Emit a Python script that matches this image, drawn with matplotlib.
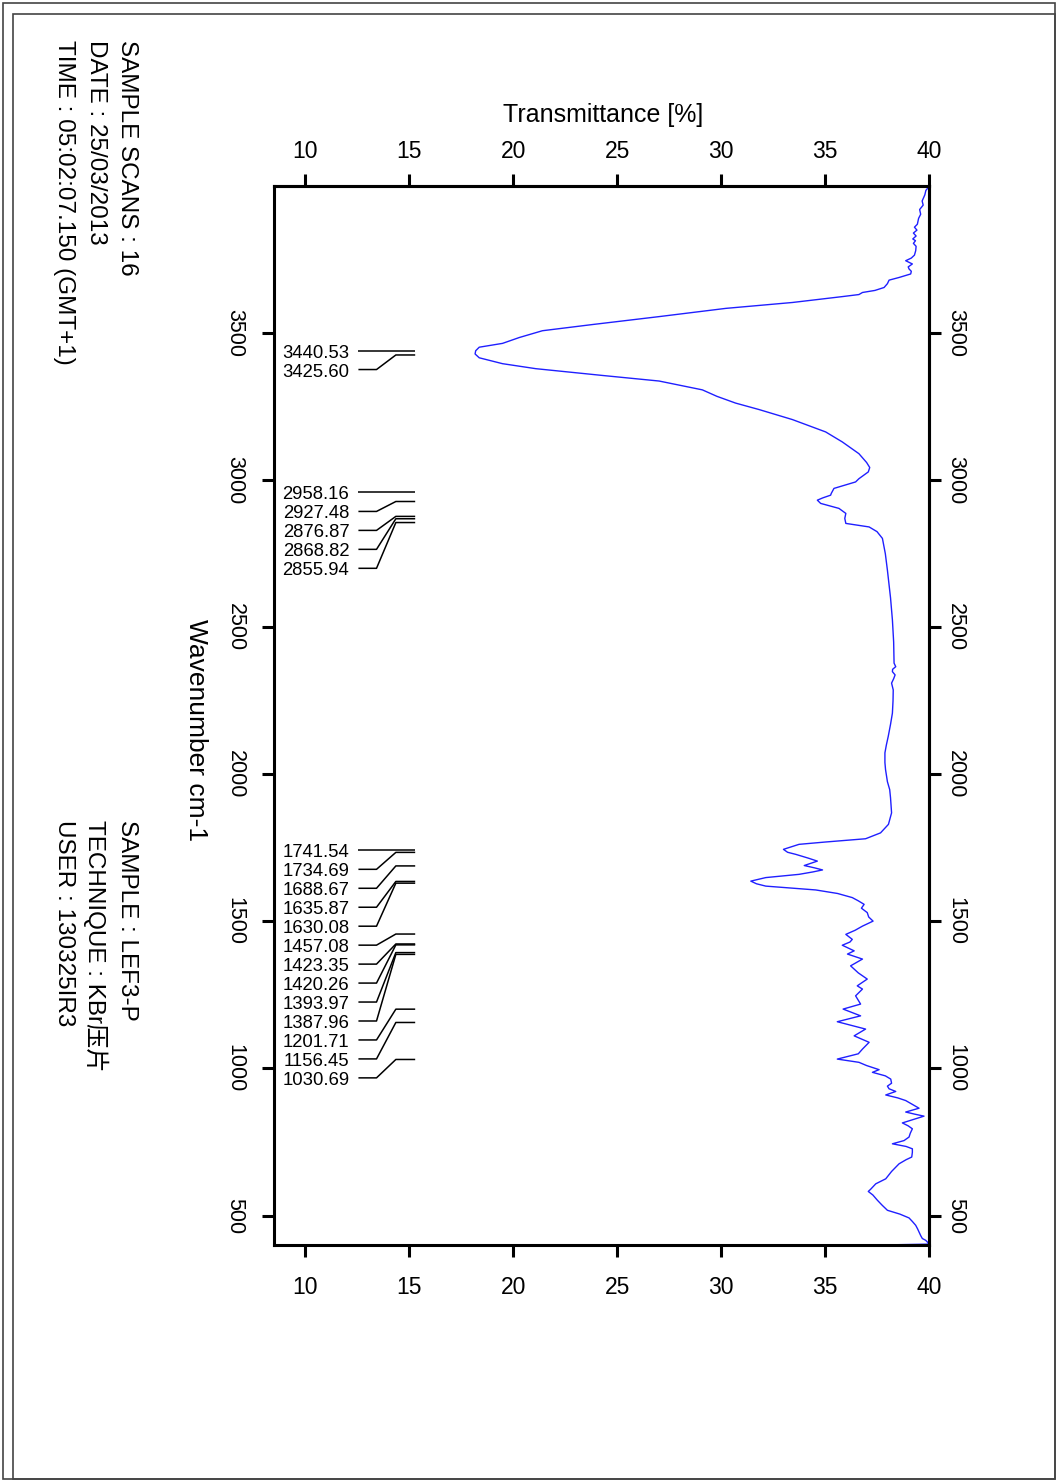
import matplotlib
matplotlib.use("Agg")
import matplotlib.pyplot as plt
import matplotlib.transforms as mtransforms
from matplotlib.patches import Rectangle

plt.rcParams['font.family'] = ['Liberation Sans', 'DejaVu Sans']

# ---------------- data ----------------
wavenumber = [3998, 3985, 3970, 3949, 3935, 3920, 3904, 3890, 3870, 3860, 3850, 3840, 3830,
              3820, 3814, 3805, 3795, 3780, 3765, 3755, 3746, 3740, 3735, 3725, 3718, 3710,
              3701, 3689, 3680, 3668, 3655, 3645, 3638, 3631, 3624, 3604, 3584, 3556, 3529,
              3508, 3485, 3465, 3452, 3440, 3429, 3416, 3396, 3379, 3356, 3337, 3307, 3285,
              3262, 3240, 3206, 3164, 3130, 3090, 3060, 3043, 3028, 3005, 2994, 2972, 2955,
              2949, 2940, 2932, 2921, 2904, 2887, 2870, 2853, 2841, 2825, 2802, 2750, 2694,
              2600, 2525, 2450, 2378, 2366, 2357, 2349, 2338, 2325, 2310, 2287, 2250, 2208,
              2170, 2129, 2100, 2073, 2040, 2016, 1975, 1948, 1920, 1869, 1830, 1801, 1781,
              1770, 1762, 1745, 1735, 1728, 1715, 1705, 1697, 1690, 1682, 1675, 1668, 1660,
              1649, 1637, 1628, 1620, 1607, 1595, 1581, 1570, 1558, 1545, 1530, 1515, 1501,
              1484, 1470, 1456, 1439, 1430, 1419, 1400, 1389, 1372, 1360, 1349, 1325,
              1304, 1281, 1270, 1247, 1232, 1219, 1202, 1179, 1159, 1134, 1111, 1089,
              1066, 1050, 1032, 1021, 1010, 996,
              987, 975, 964, 950, 940, 931, 922, 910, 900, 891, 878, 865, 852, 845, 838, 828,
              815, 805, 795, 780, 767, 755, 744, 735, 727, 715, 699, 690, 676, 650, 625, 608,
              590, 582, 570, 552, 535, 518, 505, 492, 480, 467, 455, 444, 432, 422, 416, 408,
              403, 400]
transmittance = [40.0, 39.85, 39.8, 39.67, 39.72, 39.55, 39.6, 39.5, 39.44, 39.3, 39.42, 39.25,
                 39.38, 39.22, 39.35, 39.25, 39.38, 39.36, 39.3, 39.15, 38.88, 39.05, 39.2,
                 39.0, 39.04, 39.15, 39.12, 38.56, 38.08, 38.0, 37.84, 37.4, 36.8, 36.63,
                 35.83, 33.43, 30.23, 27.02, 23.81, 21.41, 20.3, 19.49, 18.37, 18.2, 18.17,
                 18.37, 19.49, 21.09, 24.29, 27.02, 29.1, 29.8, 30.7, 31.83, 33.43, 35.03,
                 35.83, 36.63, 37.0, 37.15, 37.08, 36.63, 36.47, 35.43, 35.3, 35.27, 34.9,
                 34.63, 34.79, 35.67, 36.0, 35.95, 36.0, 37.12, 37.5, 37.76, 37.9, 38.0,
                 38.15, 38.24, 38.3, 38.32, 38.4, 38.25, 38.24, 38.37, 38.3, 38.2, 38.28,
                 38.27, 38.24, 38.15, 38.04, 37.95, 37.88, 37.88, 37.91, 38.0, 38.11, 38.15,
                 38.2, 38.05, 37.67, 36.95, 35.03, 33.75, 33.0, 33.2, 33.59, 34.2, 34.63,
                 34.3, 34.0, 34.5, 34.88, 34.4, 33.75, 32.15, 31.43, 31.7, 32.15, 34.55, 35.6,
                 36.31, 36.6, 36.88, 36.75, 37.03, 37.1, 37.31,
                 36.8, 36.45, 36.0, 36.31, 36.2, 35.83, 36.4, 36.08, 36.8, 36.5, 36.23, 36.6,
                 37.03, 36.55, 36.8, 36.47, 36.6, 36.71, 35.87, 36.71, 35.59, 36.95, 36.4,
                 37.12, 36.8, 36.6, 35.59, 36.63, 37.0,
                 37.6, 37.28, 37.9, 38.16, 38.2, 38.0, 38.08, 38.4, 37.92, 38.5, 38.88, 39.2,
                 39.52, 38.88, 39.3, 39.76, 39.3, 38.72, 39.0, 39.2, 39.1, 39.04, 38.8, 38.24,
                 38.9, 39.2, 39.2, 39.17, 38.9, 38.56, 38.2, 37.92, 37.44, 37.2, 37.08, 37.3,
                 37.52, 37.75, 38.0, 38.6, 39.04, 39.2, 39.36, 39.45, 39.52, 39.6, 39.68,
                 39.84, 39.95, 40.0, 37.7]

peak_wavenumbers = [3440.53, 3425.60, 2958.16, 2927.48, 2876.87, 2868.82, 2855.94,
                    1741.54, 1734.69, 1688.67, 1635.87, 1630.08, 1457.08, 1423.35,
                    1420.26, 1393.97, 1387.96, 1201.71, 1156.45, 1030.69]

x_ticks = [10, 15, 20, 25, 30, 35, 40]
y_ticks = [3500, 3000, 2500, 2000, 1500, 1000, 500]

info_left = ["SAMPLE SCANS : 16", "DATE : 25/03/2013", "TIME : 05:02:07.150 (GMT+1)"]
info_right = ["SAMPLE : LEF3-P", "TECHNIQUE : KBr压片", "USER : 130325IR3"]

# ---------------- figure ----------------
W, H = 1057, 1483
fig = plt.figure(figsize=(W / 100, H / 100), dpi=100)

def fx(px):
    return px / W

def fy(py):
    return 1 - py / H

# page frame
fig.add_artist(Rectangle((fx(3), fy(1479)), fx(1055) - fx(3), fy(3) - fy(1479),
                         transform=fig.transFigure, fill=False, lw=1.2, ec='#444444'))
fig.add_artist(Rectangle((fx(13), fy(1479)), fx(1055) - fx(13), fy(14) - fy(1479),
                         transform=fig.transFigure, fill=False, lw=1.2, ec='#444444'))

ax = fig.add_axes([fx(274), fy(1245), fx(929) - fx(274), fy(186) - fy(1245)])
ax.plot(transmittance, wavenumber, color='#1f1fff', lw=1.0)
ax.set_xlim(8.5, 40)
ax.set_ylim(400, 4000)

for s in ax.spines.values():
    s.set_linewidth(2.2)

ax.set_xticks(x_ticks)
ax.set_yticks(y_ticks)
ax.tick_params(axis='x', which='major', direction='out', length=8.5, width=2.2,
               labelsize=16.5, pad=14, top=False, bottom=True)
ax.tick_params(axis='y', which='major', direction='out', length=8.5, width=2.2,
               labelsize=15.5, pad=12, left=True, right=False, labelrotation=-90)
for lab in ax.get_yticklabels():
    lab.set_va('center')

secx = ax.secondary_xaxis('top')
secx.set_xticks(x_ticks)
secx.tick_params(axis='x', direction='out', length=8.5, width=2.2, labelsize=16.5, pad=8)
secx.spines['top'].set_linewidth(2.2)

secy = ax.secondary_yaxis('right')
secy.set_yticks(y_ticks)
secy.tick_params(axis='y', direction='out', length=8.5, width=2.2, labelsize=15.5, pad=3,
                 labelrotation=-90)
secy.spines['right'].set_linewidth(2.2)
for lab in secy.get_yticklabels():
    lab.set_va('center')

# peak annotations
spacing = 64.45
text_x, l0, l1, l2, l3 = 12.12, 12.56, 13.43, 14.36, 15.29
text_tr = mtransforms.offset_copy(ax.transData, fig=fig, x=0, y=-2.5, units='dots')
prev = None
for wn in peak_wavenumbers:
    ly = wn if prev is None else min(wn, prev - spacing)
    prev = ly
    ax.plot([l0, l1, l2, l3], [ly, ly, wn, wn], color='black', lw=1.1, solid_capstyle='butt')
    ax.text(text_x, ly, f"{wn:.2f}", transform=text_tr, ha='right', va='center',
            fontsize=13.3)

# axis titles
fig.text(fx(603), fy(115), "Transmittance [%]", ha='center', va='center', fontsize=18)
fig.text(fx(196), fy(730), "Wavenumber cm-1", ha='center', va='center', fontsize=19,
         rotation=-90)

# info texts
xs = [127, 96, 64]
for t, x in zip(info_left, xs):
    fig.text(fx(x), fy(40), t, ha='center', va='top', rotation=-90, fontsize=17.5)
for t, x in zip(info_right, xs):
    fig.text(fx(x), fy(820), t, ha='center', va='top', rotation=-90, fontsize=17.5,
             family=['Liberation Sans', 'Noto Sans CJK SC'])

fig.savefig("out.png", dpi=100)
